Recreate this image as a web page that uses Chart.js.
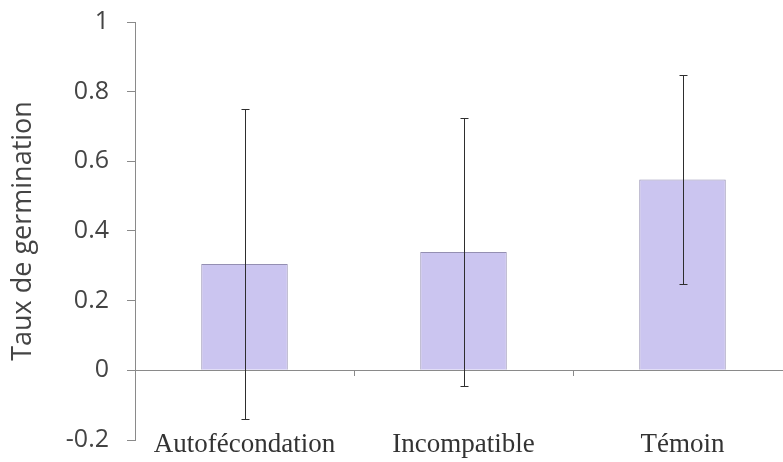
<!DOCTYPE html>
<html>
<head>
<meta charset="utf-8">
<script src="https://cdn.jsdelivr.net/npm/chart.js@4/dist/chart.umd.min.js"></script>
<style>
  html, body { margin: 0; padding: 0; background: #ffffff; overflow: hidden; width: 783px; height: 462px; }
  #wrap { position: absolute; left: 0; top: 0; width: 800px; height: 462px; }
</style>
</head>
<body>
<div id="wrap"><canvas id="c" width="800" height="462"></canvas></div>
<script>
const categories = ["Autofécondation", "Incompatible", "Témoin"];
const germinationRate = [0.305, 0.34, 0.548];
const errorMargin = [0.445, 0.384, 0.299];
const yTickValues = [-0.2, 0, 0.2, 0.4, 0.6, 0.8, 1];
const yTickLabels = ["-0.2", "0", "0.2", "0.4", "0.6", "0.8", "1"];
const yTitle = "Taux de germination";

const errorBarPlugin = {
  id: 'errorBars',
  afterDatasetsDraw(chart) {
    const ctx = chart.ctx;
    const meta = chart.getDatasetMeta(0);
    const yScale = chart.scales.y;
    ctx.save();
    ctx.strokeStyle = '#2e2e2e';
    ctx.lineWidth = 1;
    meta.data.forEach((bar, i) => {
      const v = germinationRate[i];
      const e = errorMargin[i];
      const x = Math.round(bar.x) + 0.5;
      const yTop = Math.round(yScale.getPixelForValue(v + e)) + 0.5;
      const yBot = Math.round(yScale.getPixelForValue(v - e)) + 0.5;
      const cap = 4;
      ctx.beginPath();
      ctx.moveTo(x, yTop); ctx.lineTo(x, yBot);
      ctx.moveTo(x - cap, yTop); ctx.lineTo(x + cap, yTop);
      ctx.moveTo(x - cap, yBot); ctx.lineTo(x + cap, yBot);
      ctx.stroke();
    });
    ctx.restore();
  }
};

new Chart(document.getElementById('c'), {
  type: 'bar',
  data: {
    labels: categories,
    datasets: [{
      data: germinationRate,
      backgroundColor: '#cbc5f0',
      borderColor: '#948fb2',
      borderWidth: 1,
      barPercentage: 0.395,
      categoryPercentage: 1.0
    }]
  },
  options: {
    responsive: false,
    devicePixelRatio: 1,
    animation: false,
    layout: { padding: { top: 22, right: 8, bottom: 0, left: 0 } },
    plugins: { legend: { display: false }, tooltip: { enabled: false } },
    scales: {
      x: {
        type: 'category',
        position: 'bottom',
        offset: true,
        grid: { display: false, drawTicks: false },
        border: { display: false },
        ticks: {
          mirror: true,
          padding: -21,
          color: '#333333',
          font: { family: 'Liberation Serif', size: 27 },
          maxRotation: 0, autoSkip: false
        },
        afterFit(scale) {
          scale.height = 22;
          scale.paddingLeft = 0; scale.paddingRight = 0;
          scale.paddingTop = 0; scale.paddingBottom = 0;
        }
      },
      x2: {
        type: 'category',
        labels: categories,
        position: { y: 0 },
        offset: true,
        grid: { offset: true, drawOnChartArea: false, drawTicks: true, tickLength: 5, color: '#8a8a8a' },
        border: { display: true, color: '#8a8a8a', width: 1 },
        ticks: { display: false }
      },
      y: {
        type: 'linear',
        position: 'left',
        min: yTickValues[0],
        max: yTickValues[yTickValues.length - 1],
        afterBuildTicks(scale) {
          scale.ticks = yTickValues.map(v => ({ value: v }));
        },
        ticks: {
          padding: 18,
          color: '#444444',
          font: { family: 'Open Sans', size: 25 },
          callback(value) {
            const i = yTickValues.findIndex(v => Math.abs(v - value) < 1e-9);
            return i >= 0 ? yTickLabels[i] : '';
          }
        },
        grid: { drawOnChartArea: false, drawTicks: true, tickLength: 8, color: '#8a8a8a' },
        border: { display: true, color: '#8a8a8a', width: 1 },
        title: {
          display: true,
          text: yTitle,
          color: '#444444',
          font: { family: 'Open Sans', size: 27 },
          padding: { top: 7, bottom: 0 }
        },
        afterFit(scale) {
          scale.width = 135;
          scale.paddingTop = 0; scale.paddingBottom = 0;
          scale.paddingLeft = 0; scale.paddingRight = 0;
        }
      }
    }
  },
  plugins: [errorBarPlugin]
});
</script>
</body>
</html>
